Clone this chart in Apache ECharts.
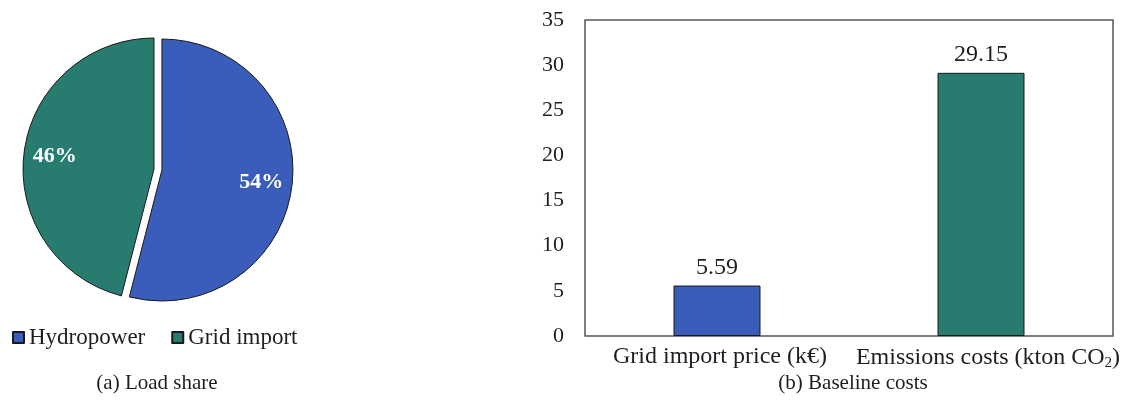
<!DOCTYPE html>
<html>
<head>
<meta charset="utf-8">
<script src="https://cdn.jsdelivr.net/npm/echarts@6/dist/echarts.min.js"></script>
<style>
  html, body { margin: 0; padding: 0; background: #fff; }
  #chart { width: 1124px; height: 405px; }
</style>
</head>
<body>
<div id="chart"></div>
<script>
// Load share (percent of load)
const shareNames = ['Hydropower', 'Grid import'];
const shareValues = [54, 46];
// Baseline costs
const costCategories = ['Grid import price (k€)', 'Emissions costs (kton CO{sub|2})'];
const costValues = [5.59, 29.15];
// Value axis
const yMin = 0, yMax = 35, yStep = 5;

const colors = ['#3a5dbc', '#277c6f'];
const serif = '"Liberation Serif", "Times New Roman", serif';
const ink = '#1e1e1e';

const chart = echarts.init(document.getElementById('chart'), null, { renderer: 'canvas' });

const pieData = shareNames.map((n, i) => ({
  name: n,
  value: shareValues[i],
  selected: i === 0,
  itemStyle: { color: colors[i] }
}));

// category labels sit a little right of the bar centres
const labelShift = [6, 14];

const option = {
  animation: false,
  backgroundColor: '#ffffff',
  textStyle: { fontFamily: serif, color: ink },
  title: [
    { text: '(a) Load share', left: 152, top: 368, textAlign: 'center',
      textStyle: { fontFamily: serif, fontSize: 21, fontWeight: 'normal', color: ink } },
    { text: '(b) Baseline costs', left: 848, top: 368, textAlign: 'center',
      textStyle: { fontFamily: serif, fontSize: 21, fontWeight: 'normal', color: ink } }
  ],
  legend: {
    data: shareNames,
    left: 7, top: 321,
    icon: 'rect', itemWidth: 11, itemHeight: 11, itemGap: 26,
    textStyle: { fontFamily: serif, fontSize: 23, color: ink }
  },
  grid: { left: 585, top: 20, right: 11, bottom: 69, show: true,
    outerBoundsMode: 'none', containLabel: false,
    borderColor: '#555', borderWidth: 1.5, backgroundColor: 'transparent' },
  xAxis: {
    type: 'category',
    data: costCategories.map((c, i) => ({ value: c, textStyle: { padding: [0, 0, 0, labelShift[i]] } })),
    axisLine: { show: false }, axisTick: { show: false },
    axisLabel: { fontFamily: serif, fontSize: 24, color: ink, margin: 9, interval: 0, hideOverlap: false,
      rich: { sub: { fontFamily: serif, fontSize: 15, color: ink, padding: [11, 0, 0, 0] } } }
  },
  yAxis: {
    type: 'value', min: yMin, max: yMax, interval: yStep,
    splitLine: { show: false }, axisLine: { show: false }, axisTick: { show: false },
    axisLabel: { fontFamily: serif, fontSize: 22, color: ink, margin: 21 }
  },
  series: [
    {
      type: 'pie', center: [154, 169], radius: 131, startAngle: 90, clockwise: true,
      selectedMode: 'single', selectedOffset: 8,
      emphasis: { disabled: true },
      itemStyle: { borderColor: '#1a1a1a', borderWidth: 1 },
      label: { show: false }, labelLine: { show: false },
      data: pieData
    },
    {
      // label ring: places the percentages at ~3/4 of the radius
      type: 'pie', center: [154, 169], radius: [63, 131], startAngle: 90, clockwise: true,
      selectedMode: 'single', selectedOffset: 8, silent: true,
      emphasis: { disabled: true }, legendHoverLink: false,
      itemStyle: { color: 'rgba(0,0,0,0)', borderWidth: 0 },
      label: { show: true, position: 'inside', formatter: '{c}%',
        fontFamily: serif, fontSize: 22, fontWeight: 'bold', color: '#ffffff' },
      labelLine: { show: false },
      data: shareNames.map((n, i) => ({ name: n + ' ', value: shareValues[i], selected: i === 0 }))
    },
    {
      type: 'bar', data: costValues.map((v, i) => ({ value: v, itemStyle: { color: colors[i] } })),
      barWidth: 87,
      itemStyle: { borderColor: '#1a1a1a', borderWidth: 1 },
      label: { show: true, position: 'top', distance: 6, fontFamily: serif, fontSize: 24, color: ink },
      emphasis: { disabled: true }
    }
  ]
};

chart.setOption(option);
</script>
</body>
</html>
